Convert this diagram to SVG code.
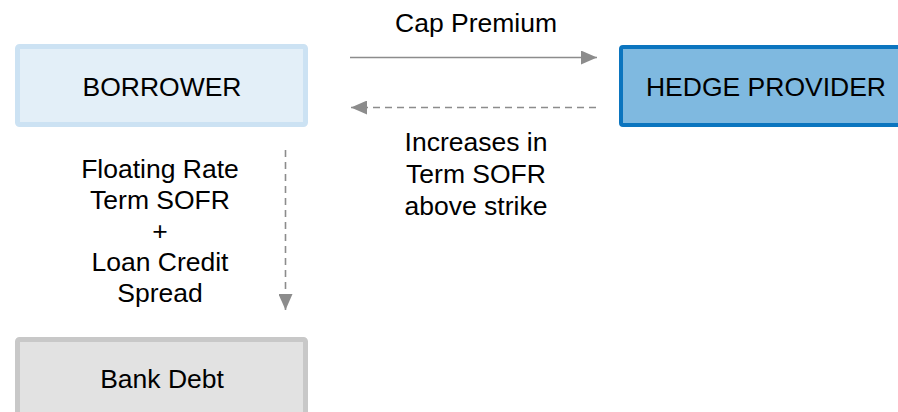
<svg xmlns="http://www.w3.org/2000/svg" width="898" height="412" viewBox="0 0 898 412">
<style>
text{font-family:"Liberation Sans",Arial,sans-serif;font-size:26.5px;fill:#000;text-anchor:middle}
.ln{stroke:#8c8c8c;stroke-width:1.6;fill:none}
.dash{stroke-dasharray:7,5}
</style>
<defs>
<marker id="ah2" viewBox="0 0 16 14" refX="16" refY="7" markerWidth="16" markerHeight="14" markerUnits="userSpaceOnUse" orient="auto"><path d="M0,0L16,7L0,14z" fill="#8c8c8c"/></marker>
</defs>
<g id="borrower">
<rect x="17.5" y="46.5" width="288" height="78" rx="2" fill="#e3eff8" stroke="#cce2f3" stroke-width="5"/>
<text x="162" y="96">BORROWER</text>
</g>
<g id="hedge">
<rect x="621" y="47" width="290" height="78" rx="2" fill="#7fb9e0" stroke="#0b75bf" stroke-width="4"/>
<text x="766" y="95.5">HEDGE PROVIDER</text>
</g>
<g id="bank">
<rect x="17.5" y="339.5" width="288" height="90" rx="2" fill="#e2e2e2" stroke="#c8c8c8" stroke-width="5"/>
<text x="162" y="388">Bank Debt</text>
</g>
<g id="connectors">
<line class="ln" x1="350" y1="57.5" x2="597" y2="57.5" marker-end="url(#ah2)"/>
<line class="ln dash" x1="596" y1="107.5" x2="351" y2="107.5" marker-end="url(#ah2)"/>
<line class="ln dash" x1="285.5" y1="150" x2="285.5" y2="310" marker-end="url(#ah2)"/>
</g>
<g id="labels">
<text x="476" y="32">Cap Premium</text>
<text x="476" y="151">Increases in</text>
<text x="476" y="183">Term SOFR</text>
<text x="476" y="215">above strike</text>
<text x="160" y="178">Floating Rate</text>
<text x="160" y="209">Term SOFR</text>
<text x="160" y="240">+</text>
<text x="160" y="271">Loan Credit</text>
<text x="160" y="302">Spread</text>
</g>
</svg>
